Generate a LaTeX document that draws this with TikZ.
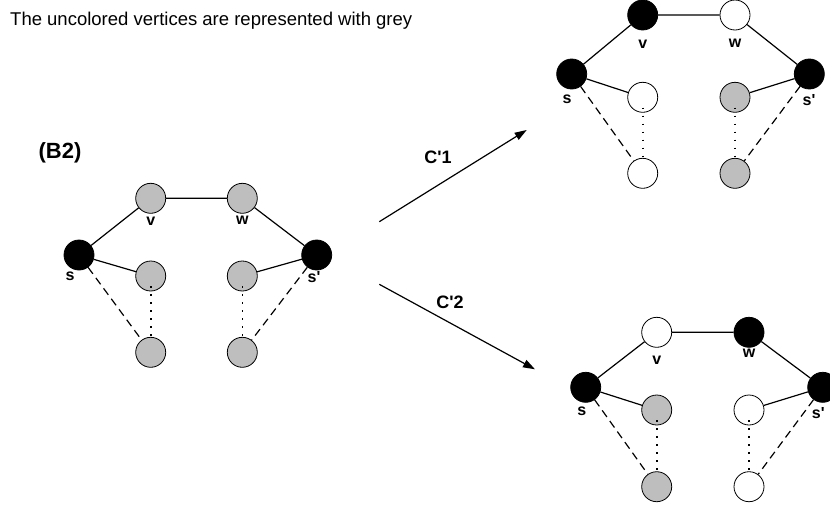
\documentclass[tikz,border=0pt]{standalone}
\usepackage{fontspec}
\setmainfont{Liberation Sans}
\usetikzlibrary{arrows.meta}
\definecolor{vgrey}{RGB}{190,190,190}
\newcommand{\sq}{\textquotesingle}
\begin{document}
\begin{tikzpicture}[x=1pt,y=-1pt,
  vtx/.style={circle,draw=black,line width=0.8pt,minimum size=30pt,inner sep=0pt},
  gr/.style={vtx,fill=vgrey},
  bk/.style={vtx,fill=black},
  wh/.style={vtx,fill=white},
  lbl/.style={font=\fontsize{16}{16}\selectfont\bfseries,inner sep=0pt},
  arrlbl/.style={font=\fontsize{18}{18}\selectfont\bfseries,inner sep=0pt},
  edge/.style={line width=1.2pt},
  dotedge/.style={line width=1.6pt,dash pattern=on 1.6pt off 6.4pt},
  dashedge/.style={line width=1.2pt,dash pattern=on 8pt off 5pt},
  arr/.style={line width=1.2pt,-{Triangle[length=12pt,width=8pt]}}
]
\useasboundingbox (0,0) rectangle (830,504);
\clip (0,0) rectangle (830,504);

% title
\node[anchor=base west,inner sep=0pt,font=\fontsize{18.5}{18.5}\selectfont] (title) at (10,25.7) {The uncolored vertices are represented with grey};
\node[inner sep=0pt,font=\fontsize{22}{22}\selectfont\bfseries] (b2) at (60,152.5) {(B2)};

% left graph (a)
\node[gr] (a-v) at (150.7,198.3) {};
\node[gr] (a-w) at (242.3,198.3) {};
\node[bk] (a-s) at (79,255) {};
\node[bk] (a-sp) at (316.7,255) {};
\node[gr] (a-lm) at (150.7,276) {};
\node[gr] (a-rm) at (242.3,276) {};
\node[gr] (a-lb) at (150.7,352.3) {};
\node[gr] (a-rb) at (242.3,352.3) {};
\node[lbl] (a-lv) at (150.7,221.7) {v};
\node[lbl] (a-lw) at (242.3,220) {w};
\node[lbl] (a-ls) at (70,276.7) {s};
\node[lbl] (a-lsp) at (314,276.7) {s\sq};

% top right graph (b)
\node[bk] (b-v) at (642.7,15) {};
\node[wh] (b-w) at (735,15) {};
\node[bk] (b-s) at (571.7,74) {};
\node[bk] (b-sp) at (809.3,74) {};
\node[wh] (b-lm) at (642.7,97.3) {};
\node[gr] (b-rm) at (735,97.3) {};
\node[wh] (b-lb) at (642.7,173.3) {};
\node[gr] (b-rb) at (735,173.3) {};
\node[lbl] (b-lv) at (642.7,44) {v};
\node[lbl] (b-lw) at (735,43.3) {w};
\node[lbl] (b-ls) at (567,99.3) {s};
\node[lbl] (b-lsp) at (809,100) {s\sq};

% bottom right graph (c)
\node[wh] (c-v) at (656.7,332.3) {};
\node[bk] (c-w) at (749,332.3) {};
\node[bk] (c-s) at (585.7,387.3) {};
\node[bk] (c-sp) at (822.7,387.3) {};
\node[gr] (c-lm) at (656.7,410) {};
\node[wh] (c-rm) at (749,410) {};
\node[gr] (c-lb) at (656.7,486.7) {};
\node[wh] (c-rb) at (749,486.7) {};
\node[lbl] (c-lv) at (656.7,360) {v};
\node[lbl] (c-lw) at (749,353.3) {w};
\node[lbl] (c-ls) at (581.7,411.7) {s};
\node[lbl] (c-lsp) at (818.3,413.3) {s\sq};

\foreach \g in {a,b,c}{
  \draw[edge] (\g-s) -- (\g-v) -- (\g-w) -- (\g-sp);
  \draw[edge] (\g-s) -- (\g-lm);
  \draw[edge] (\g-sp) -- (\g-rm);
  \draw[dotedge] ([yshift=5pt]\g-lm.south) -- ([yshift=-3pt]\g-lb.north);
  \draw[dotedge] ([yshift=5pt]\g-rm.south) -- ([yshift=-3pt]\g-rb.north);
  \draw[dashedge] (\g-s) -- (\g-lb);
  \draw[dashedge] (\g-sp) -- (\g-rb);
}

% arrows
\coordinate (a1s) at (379.3,221.7);
\coordinate (a1e) at (526.7,130);
\coordinate (a2s) at (379.3,284.3);
\coordinate (a2e) at (535,369.3);
\draw[arr] (a1s) -- (a1e);
\draw[arr] (a2s) -- (a2e);
\node[arrlbl] (c1) at (438,157.5) {C\sq1};
\node[arrlbl] (c2) at (450,302.5) {C\sq2};
\end{tikzpicture}
\end{document}
